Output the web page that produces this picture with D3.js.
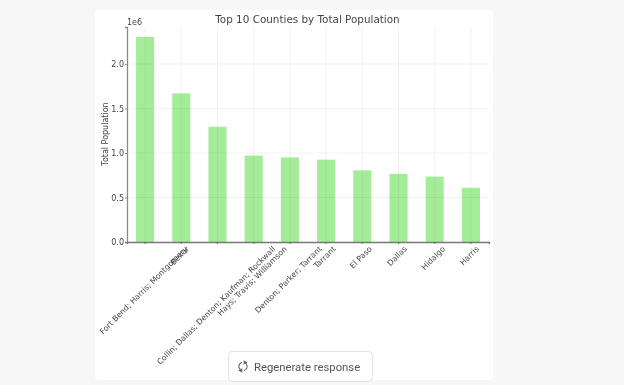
<!DOCTYPE html>
<html lang="en-us">
<head>
<meta charset="utf-8">
<title>Top 10 Counties by Total Population</title>
<script src="https://d3js.org/d3.v7.min.js"></script>
<style>
  html, body { margin: 0; padding: 0; background: #f7f7f7; overflow: hidden; }
  svg { display: block; filter: blur(0.45px); }
  .axis text { font-family: "DejaVu Sans", sans-serif; font-size: 8px; fill: #444; }
</style>
</head>
<body>
<div id="chart"></div>
<script>
var counties = ["Fort Bend; Harris; Montgomery", "Bexar", "Collin; Dallas; Denton; Kaufman; Rockwall",
  "Hays; Travis; Williamson", "Denton; Parker; Tarrant", "Tarrant", "El Paso", "Dallas", "Hidalgo", "Harris"];
var population = [2305000, 1670000, 1295000, 970000, 950000, 925000, 805000, 765000, 735000, 610000];
var yTicks = [0, 500000, 1000000, 1500000, 2000000];

var svg = d3.select("#chart").append("svg")
  .attr("width", 624)
  .attr("height", 385);

// page card behind the chart
svg.append("rect")
  .attr("x", 95).attr("y", 10)
  .attr("width", 398).attr("height", 370)
  .attr("rx", 4)
  .attr("fill", "#fff");

var x = d3.scaleBand()
  .domain(counties)
  .range([127, 489])
  .paddingInner(0.5)
  .paddingOuter(0.25);

var y = d3.scaleLinear()
  .domain([0, 2416000])
  .range([242, 27]);

var centre = function(d) { return x(d) + x.bandwidth() / 2; };

// bars
svg.selectAll(".bar")
  .data(counties)
  .enter().append("rect")
  .attr("class", "bar")
  .attr("x", function(d) { return x(d); })
  .attr("y", function(d, i) { return y(population[i]); })
  .attr("width", x.bandwidth())
  .attr("height", function(d, i) { return 242 - y(population[i]); })
  .attr("fill", "#a4ec98");

// grid goes over the bars, very faint
svg.selectAll(".gridx")
  .data(counties)
  .enter().append("line")
  .attr("class", "gridx")
  .attr("x1", centre).attr("x2", centre)
  .attr("y1", 27).attr("y2", 242)
  .attr("stroke", "#000").attr("stroke-opacity", 0.08)
  .attr("stroke-width", 0.9).attr("stroke-dasharray", "1.5,0.5");

svg.selectAll(".gridy")
  .data(yTicks.slice(1))
  .enter().append("line")
  .attr("class", "gridy")
  .attr("x1", 127).attr("x2", 489)
  .attr("y1", function(d) { return y(d); })
  .attr("y2", function(d) { return y(d); })
  .attr("stroke", "#000").attr("stroke-opacity", 0.08)
  .attr("stroke-width", 0.9).attr("stroke-dasharray", "1.5,0.5");

// y axis
var yAxis = d3.axisLeft(y)
  .tickValues(yTicks)
  .tickSize(2)
  .tickPadding(1)
  .tickFormat(function(d) { return (d / 1e6).toFixed(1); });

var gy = svg.append("g")
  .attr("class", "axis")
  .attr("transform", "translate(127,0)")
  .call(yAxis);
gy.select(".domain").attr("stroke", "#8a8a8a").attr("stroke-width", 1.3);
gy.selectAll(".tick line").attr("stroke", "#666").attr("stroke-width", 0.7);

// x axis
var xAxis = d3.axisBottom(x).tickSize(2).tickFormat("");
var gx = svg.append("g")
  .attr("class", "axis")
  .attr("transform", "translate(0,242)")
  .call(xAxis);
gx.select(".domain").attr("stroke", "#777").attr("stroke-width", 1.3);
gx.selectAll(".tick line").attr("stroke", "#555").attr("stroke-width", 0.7);

// labels rotated round their middle, with the top of the box just under the axis
svg.selectAll(".xlabel")
  .data(counties)
  .enter().append("text")
  .attr("class", "xlabel")
  .attr("text-anchor", "middle")
  .attr("font-family", "'DejaVu Sans', sans-serif")
  .attr("font-size", 7.8)
  .attr("fill", "#444")
  .text(function(d) { return d; })
  .attr("transform", function(d) {
    var half = this.getComputedTextLength() / 2 * Math.SQRT1_2;
    return "translate(" + (centre(d) - 1.5) + "," + (247.5 + half) + ") rotate(-45)";
  })
  .attr("dy", "0.35em");

// title and axis text
svg.append("text")
  .attr("x", 307.5).attr("y", 23)
  .attr("text-anchor", "middle")
  .attr("font-family", "'DejaVu Sans', sans-serif")
  .attr("font-size", 10.4)
  .attr("fill", "#444")
  .text("Top 10 Counties by Total Population");

svg.append("text")
  .attr("x", 127).attr("y", 25)
  .attr("font-family", "'DejaVu Sans', sans-serif")
  .attr("font-size", 8)
  .attr("fill", "#444")
  .text("1e6");

svg.append("text")
  .attr("transform", "translate(108,134) rotate(-90)")
  .attr("text-anchor", "middle")
  .attr("font-family", "'DejaVu Sans', sans-serif")
  .attr("font-size", 8)
  .attr("fill", "#444")
  .text("Total Population");

// regenerate button
svg.append("rect")
  .attr("x", 228.5).attr("y", 351.5)
  .attr("width", 144).attr("height", 30)
  .attr("rx", 4)
  .attr("fill", "#fff")
  .attr("stroke", "#e3e3e6");

var arc = d3.arc().innerRadius(3.6).outerRadius(4.6);
var icon = svg.append("g").attr("transform", "translate(243,366.5)").attr("fill", "#666");
icon.append("path").attr("d", arc({ startAngle: 0.5, endAngle: 2.9 }));
icon.append("path").attr("d", arc({ startAngle: 3.6, endAngle: 6.0 }));
icon.append("path").attr("d", d3.symbol(d3.symbolTriangle, 9)).attr("transform", "translate(2,-4) rotate(90)");
icon.append("path").attr("d", d3.symbol(d3.symbolTriangle, 9)).attr("transform", "translate(-2,4) rotate(-90)");

svg.append("text")
  .attr("x", 254).attr("y", 370.5)
  .attr("font-family", "Roboto, sans-serif")
  .attr("font-size", 11.3)
  .attr("fill", "#555")
  .text("Regenerate response");
</script>
</body>
</html>
